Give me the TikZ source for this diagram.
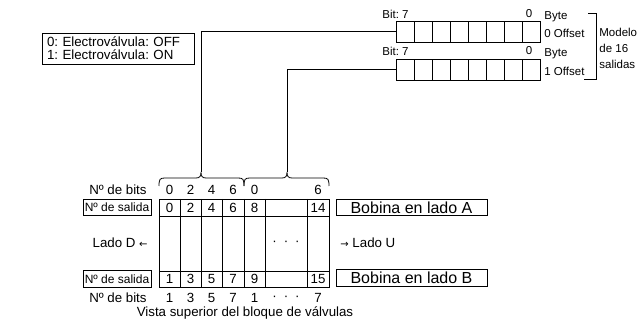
\documentclass[tikz,border=0pt]{standalone}
\usepackage{fontspec}
\setmainfont{Liberation Sans}
\newfontfamily\arrowfont{DejaVu Sans}
\frenchspacing
\begin{document}
\begin{tikzpicture}[x=1pt,y=-1pt, line width=0.8pt,
  txt/.style={inner sep=0pt, font=\fontsize{13.3}{15}\selectfont},
  lbl/.style={inner sep=0pt, font=\fontsize{11.5}{13}\selectfont},
  cell/.style={draw, minimum width=18pt, minimum height=21pt, inner sep=0pt, anchor=north west},
  conn/.style={draw},
  hbox/.style={draw, inner sep=0pt, minimum width=68pt, minimum height=16.5pt, font=\fontsize{12}{13}\selectfont},
  bbox/.style={draw, inner sep=0pt, minimum width=151pt, minimum height=16.5pt, font=\fontsize{16}{17}\selectfont},
  legend/.style={draw, inner xsep=5pt, inner ysep=0pt, minimum width=152pt, minimum height=31pt, text width=142pt, align=left, font=\fontsize{13.3}{13}\selectfont},
]
\useasboundingbox[fill=white] (0,0) rectangle (640,323);

% legend
\node[legend] (leg) at (118,48.5) {0: Electroválvula: OFF\\1: Electroválvula: ON};

% registers
\foreach \i in {0,...,7} {
  \node[cell] (ra\i) at ({396+18*\i},21) {};
  \node[cell] (rb\i) at ({396+18*\i},59) {};
}
\node[lbl, anchor=west] (bita) at (382,14) {Bit: 7};
\node[lbl] (bitza) at (529,14) {0};
\node[lbl, anchor=west] (bitb) at (382,51) {Bit: 7};
\node[lbl] (bitzb) at (529,51) {0};
\node[lbl, anchor=west] (bya) at (544,17) {Byte};
\node[lbl, anchor=west] (offa) at (544,33) {0 Offset};
\node[lbl, anchor=west] (byb) at (544,54) {Byte};
\node[lbl, anchor=west] (offb) at (544,71) {1 Offset};
\draw (588,13) -- (596,13) -- (596,79) -- (584,79);
\node[lbl, anchor=west] (mod1) at (599,32) {Modelo};
\node[lbl, anchor=west] (mod2) at (599,48) {de 16};
\node[lbl, anchor=west] (mod3) at (599,64) {salidas};

% braces
\coordinate (t1) at (201,172);
\coordinate (t2) at (287,172);
\draw (159,186) .. controls (159,179) and (160,178) .. (165,178) -- (196,178)
  .. controls (200,178) and (201,176) .. (t1)
  .. controls (201,176) and (202,178) .. (206,178) -- (238,178)
  .. controls (243,178) and (244,179) .. (244,186);
\draw (244,186) .. controls (244,179) and (245,178) .. (250,178) -- (282,178)
  .. controls (286,178) and (287,176) .. (t2)
  .. controls (287,176) and (288,178) .. (292,178) -- (323,178)
  .. controls (328,178) and (329,179) .. (329,186);

% connectors
\draw[conn] (ra0.west) -| (t1);
\draw[conn] (rb0.west) -| (t2);

% top bit numbers
\node[txt, anchor=east] (nbt) at (147,190) {Nº de bits};
\foreach \x/\t [count=\k] in {169.5/0,190.5/2,211.5/4,233/6,254.5/0,318/6}
  \node[txt] (bt\k) at (\x,190) {\t};

% table
\draw (159,199) rectangle (329,287);
\draw (159,216) -- (329,216);
\draw (159,271) -- (329,271);
\foreach \x in {180,201,222,244,265,307} \draw (\x,199) -- (\x,287);

\node[hbox] (sala) at (117,207.5) {Nº de salida};
\node[hbox] (salb) at (117,279) {Nº de salida};
\foreach \x/\t [count=\k] in {169.5/0,190.5/2,211.5/4,233/6,254.5/8,318/14}
  \node[txt] (so\k) at (\x,207.5) {\t};
\foreach \x/\t [count=\k] in {169.5/1,190.5/3,211.5/5,233/7,254.5/9,318/15}
  \node[txt] (se\k) at (\x,279) {\t};

\node[txt] (dots) at (286,243) {·\hspace{7pt}·\hspace{7pt}·};
\node[txt, anchor=east] (ladod) at (148,243) {Lado D {\arrowfont\fontsize{10}{12}\selectfont ←}};
\node[txt, anchor=west] (ladou) at (340,243) {{\arrowfont\fontsize{10}{12}\selectfont →} Lado U};

\node[bbox] (bobA) at (411.5,207.5) {Bobina en lado A};
\node[bbox] (bobB) at (411.5,278) {Bobina en lado B};

% bottom bit numbers
\node[txt, anchor=east] (nbb) at (147,298) {Nº de bits};
\foreach \x/\t [count=\k] in {169.5/1,190.5/3,211.5/5,233/7,254.5/1,318/7}
  \node[txt] (bb\k) at (\x,298) {\t};
\node[txt] (dotsb) at (286,298) {·\hspace{7pt}·\hspace{7pt}·};

\node[txt] (vista) at (245,313) {Vista superior del bloque de válvulas};
\end{tikzpicture}
\end{document}
